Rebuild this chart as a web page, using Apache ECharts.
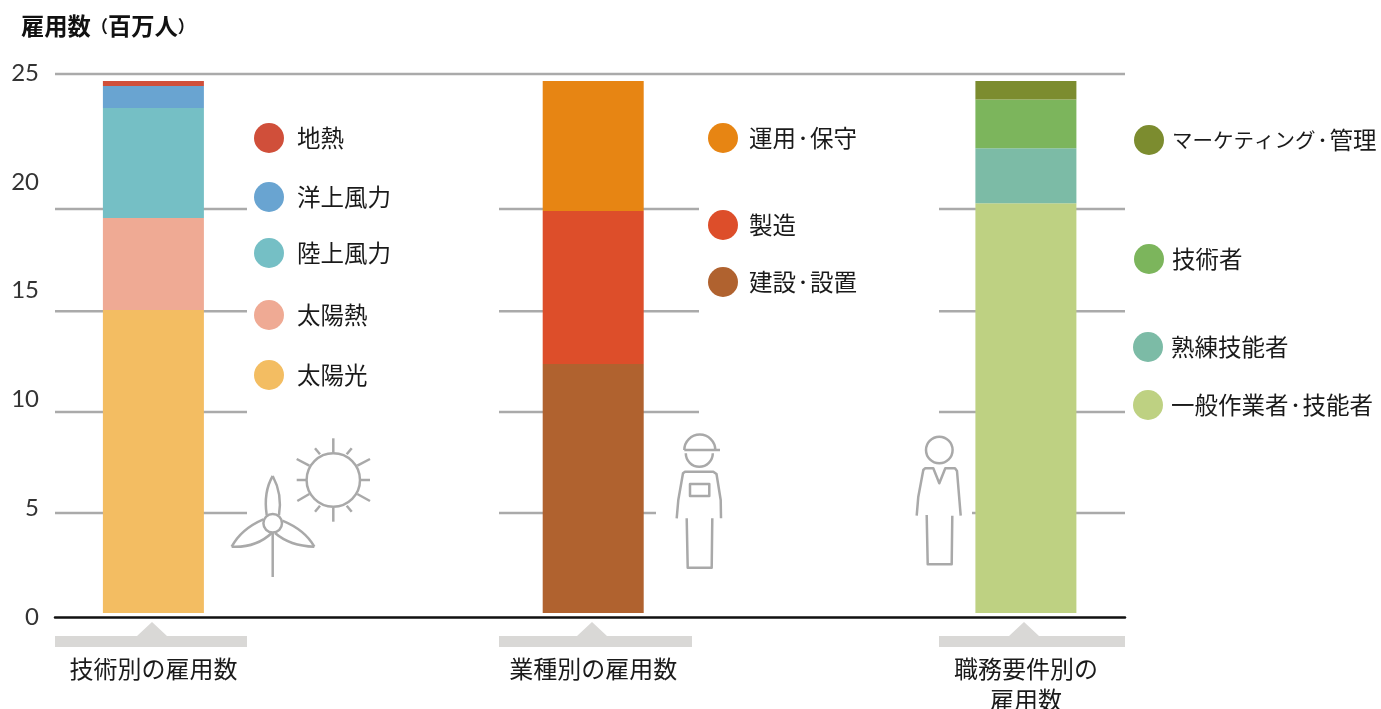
<!DOCTYPE html>
<html lang="ja">
<head>
<meta charset="utf-8">
<title>雇用数</title>
<style>html,body{margin:0;padding:0;background:#fff}#c{width:1381px;height:709px}</style>
<script src="https://cdn.jsdelivr.net/npm/echarts@6/dist/echarts.min.js"></script>
</head>
<body>
<div id="c"></div>
<script>
// ---- data ----
const titleText = '{a|雇用数}{b|\uFF08}{a|百万人}{b|\uFF09}';
const yTicks = [0, 5, 10, 15, 20, 25];
const categories = ['技術別の雇用数', '業種別の雇用数', '職務要件別の\n雇用数'];

const techNames = ['太陽光', '太陽熱', '陸上風力', '洋上風力', '地熱'];
const techValues = [14.05, 4.27, 5.10, 1.02, 0.24];
const jobNames = ['建設・設置', '製造', '運用・保守'];
const jobValues = [11.55, 7.10, 6.03];
const roleNames = ['一般作業者・技能者', '熟練技能者', '技術者', 'マーケティング・管理'];
const roleValues = [19.00, 2.56, 2.26, 0.86];

const techColors = ['#f3bd62', '#efaa94', '#75bfc5', '#69a4d1', '#d04f3a'];
const jobColors = ['#b0622f', '#dd4e2a', '#e78513'];
const roleColors = ['#bed182', '#7cbba6', '#7cb55c', '#7c8c2f'];

// reference lines sit at their own levels in the source picture
const lineLevels = [25, 18.74, 14.0, 9.32, 4.64];

// ---- layout ----
const F = '"Noto Sans CJK JP","Noto Sans",sans-serif';
const INK = '#1a1a1a';
const plotTop = 74, plotHeight = 539;
const barCenters = [153.4, 593.2, 1025.9];
const fullSpan = [[55, 1125]];
const lineSpans = [
  fullSpan,
  [[55, 247], [499, 699], [939, 1125]],
  [[55, 247], [499, 699], [939, 1125]],
  [[55, 247], [499, 699], [939, 1125]],
  [[55, 247], [499, 656], [972, 1125]]
];
const legendSpots = {
  '地熱': [254, 138, 8], '洋上風力': [254, 197, 8], '陸上風力': [254, 253, 8], '太陽熱': [254, 315, 8], '太陽光': [254, 375, 8],
  '運用・保守': [708, 138, 6], '製造': [708, 225, 6], '建設・設置': [708, 282, 6],
  'マーケティング・管理': [1134, 140, 3], '技術者': [1134, 259, 3], '熟練技能者': [1133, 347, 3], '一般作業者・技能者': [1133, 405, 3]
};

function legendText(name) {
  const sp = legendSpots[name][2];
  const body = name.split('・').map(part =>
    part.replace(/[ァ-ヶー]+/g, '\u0001$&\u0002')
        .split(/(\u0001[^\u0002]*\u0002)/).filter(Boolean)
        .map(s => s[0] === '\u0001' ? '{k|' + s.slice(1, -1) + '}' : '{a|' + s + '}').join('')
  ).join('{d|・}');
  return '{p' + sp + '|}' + body;
}

const grids = [
  { left: 55, right: 256, top: plotTop, height: plotHeight, outerBoundsMode: 'none' },
  { left: 55, right: 256, top: 73, height: 544, outerBoundsMode: 'none' }
];
const xAxes = [
  { gridIndex: 0, type: 'value', min: 55, max: 1125, position: 'bottom', offset: 4, splitLine: { show: false },
    axisLabel: { show: false }, axisTick: { show: false },
    axisLine: { show: true, onZero: false, lineStyle: { color: '#111', width: 2.5 } } },
  { gridIndex: 1, type: 'value', min: 55, max: 1125, show: false }
];
const yAxes = [
  { gridIndex: 0, type: 'value', min: 0, max: 25, show: false },
  { gridIndex: 1, type: 'value', min: 0, max: 25, interval: 5, position: 'left',
    axisLine: { show: false }, axisTick: { show: false }, splitLine: { show: false },
    axisLabel: { margin: 16, color: '#333', fontSize: 24, fontFamily: 'Lato,"Open Sans",sans-serif',
      formatter: v => yTicks.includes(v) ? String(v) : '' } }
];
const series = [];

lineLevels.forEach((v, i) => {
  lineSpans[i].forEach((span, j) => {
    series.push({ name: 'line' + i + '-' + j, type: 'line', xAxisIndex: 0, yAxisIndex: 0, z: 1, clip: false,
      silent: true, showSymbol: false, symbol: 'none', lineStyle: { color: '#aaaaaa', width: 2.5 },
      data: [[span[0], v], [span[1], v]] });
  });
});

[[techNames, techValues, techColors], [jobNames, jobValues, jobColors], [roleNames, roleValues, roleColors]].forEach((col, c) => {
  grids.push({ left: barCenters[c] - 60, width: 120, top: plotTop, height: plotHeight, outerBoundsMode: 'none' });
  xAxes.push({ gridIndex: c + 2, type: 'category', data: [categories[c]],
    axisLine: { show: false }, axisTick: { show: false }, splitLine: { show: false },
    axisLabel: { interval: 0, margin: 40, color: INK, fontSize: 24, lineHeight: 31, fontFamily: F, align: 'center' } });
  yAxes.push({ gridIndex: c + 2, type: 'value', min: 0, max: 25, show: false });
  col[0].forEach((name, i) => {
    series.push({ name, type: 'bar', stack: 'col' + c, xAxisIndex: c + 2, yAxisIndex: c + 2, z: 3, barWidth: 101,
      itemStyle: { color: col[2][i] }, data: [col[1][i]] });
  });
});

const legends = Object.keys(legendSpots).map(name => ({
  show: true, data: [name], icon: 'circle', selectedMode: false, orient: 'horizontal',
  left: legendSpots[name][0], top: legendSpots[name][1] - 15, padding: 0,
  itemWidth: 30, itemHeight: 30, formatter: legendText,
  textStyle: { color: INK, fontFamily: F, fontSize: 23.5, rich: {
    a: { fontSize: 23.5, color: INK, fontFamily: F },
    k: { fontSize: 20.5, color: INK, fontFamily: F },
    d: { fontSize: 14, color: INK, fontFamily: F, fontWeight: 'bold' },
    p8: { width: 8 }, p6: { width: 6 }, p3: { width: 3 }
  } }
}));

// ---- decorations ----
const GRAY = '#a9a9a9';
const stroke = { stroke: GRAY, lineWidth: 2.5, fill: 'none', lineJoin: 'round' };
const poly = pts => ({ type: 'polyline', shape: { points: pts }, style: { ...stroke }, z: 4 });
const circle = (cx, cy, r) => ({ type: 'circle', shape: { cx, cy, r }, style: { ...stroke }, z: 4 });
const curve = (x1, y1, cpx1, cpy1, x2, y2) => ({ type: 'bezierCurve', shape: { x1, y1, cpx1, cpy1, x2, y2 }, style: { ...stroke }, z: 4 });
const bracket = (x0, x1, ax) => ({ type: 'polygon', z: 1,
  shape: { points: [[x0, 636], [ax - 15, 636], [ax, 622], [ax + 15, 636], [x1, 636], [x1, 647], [x0, 647]] },
  style: { fill: '#d9d8d6' } });

const sunRays = [
  [[333.3, 438.3], [333.3, 452.7]], [[333.3, 508], [333.3, 521.7]], [[296.7, 480], [306.7, 480]], [[360.7, 480], [370, 480]],
  [[357.3, 465.7], [370, 459]], [[309.3, 465.7], [296.7, 459]], [[309.3, 494], [297.3, 501]], [[357.3, 494], [370, 501]],
  [[320, 454.3], [315, 448.3]], [[346.7, 454.3], [351.7, 448.3]], [[320, 505.7], [315, 511.7]], [[346.7, 505.7], [351.7, 511.7]]
];

const graphics = [
  bracket(55, 247, 152), bracket(499, 692, 592), bracket(939, 1125, 1024),
  // sun
  circle(333.3, 480, 26.7), ...sunRays.map(poly),
  // wind turbine
  circle(272.7, 523.3, 9.3),
  poly([[272.7, 533], [272.7, 577]]),
  { type: 'bezierCurve', shape: { x1: 266.7, y1: 515, cpx1: 264, cpy1: 497, cpx2: 268, cpy2: 484, x2: 272.7, y2: 476 }, style: { ...stroke }, z: 4 },
  { type: 'bezierCurve', shape: { x1: 272.7, y1: 476, cpx1: 277, cpy1: 484, cpx2: 282, cpy2: 497, x2: 279, y2: 515 }, style: { ...stroke }, z: 4 },
  curve(263.3, 519.3, 241, 529, 231.7, 546.7),
  curve(231.7, 546.7, 256, 548, 271.7, 533),
  curve(282.3, 520.7, 305, 530, 314.3, 546.7),
  curve(314.3, 546.7, 290, 546, 275, 533),
  // worker
  { type: 'arc', shape: { cx: 699.8, cy: 450, r: 15.5, startAngle: Math.PI, endAngle: 2 * Math.PI }, style: { ...stroke }, z: 4 },
  poly([[684.3, 450], [720, 450]]),
  { type: 'arc', shape: { cx: 699.3, cy: 453.3, r: 13.5, startAngle: 0, endAngle: Math.PI }, style: { ...stroke }, z: 4 },
  poly([[676.7, 518.3], [678.3, 500], [683, 473.3], [685, 471.7], [713.3, 471.7], [716.5, 474], [720.7, 500], [721, 518.3]]),
  { type: 'rect', shape: { x: 690, y: 484, width: 19.3, height: 12 }, style: { ...stroke }, z: 4 },
  poly([[686.7, 518.3], [687.7, 567.7], [711.7, 567.7], [712.3, 518.3]]),
  // person
  circle(939.3, 450, 13.3),
  poly([[916.7, 515.7], [918.3, 496.7], [923.3, 470], [925, 468.3], [933.3, 468.3], [939.3, 483.3], [945.3, 468.3], [955, 468.3], [957, 471], [960.7, 515.7]]),
  poly([[926.7, 515], [927.7, 564.3], [951.7, 564.3], [952.3, 515.7]])
];

const chart = echarts.init(document.getElementById('c'), null, { renderer: 'canvas' });
chart.setOption({
  animation: false,
  backgroundColor: '#fff',
  title: { text: titleText, left: 21, top: 15, padding: 0,
    textStyle: { fontFamily: F, fontWeight: 'bold', fontSize: 23, color: '#111', rich: {
      a: { fontFamily: F, fontWeight: 'bold', fontSize: 23.3, color: '#111' },
      b: { fontFamily: F, fontWeight: 'bold', fontSize: 17, color: '#111' }
    } } },
  tooltip: { show: false },
  legend: legends,
  grid: grids,
  xAxis: xAxes,
  yAxis: yAxes,
  series,
  graphic: { elements: graphics }
});
</script>
</body>
</html>
